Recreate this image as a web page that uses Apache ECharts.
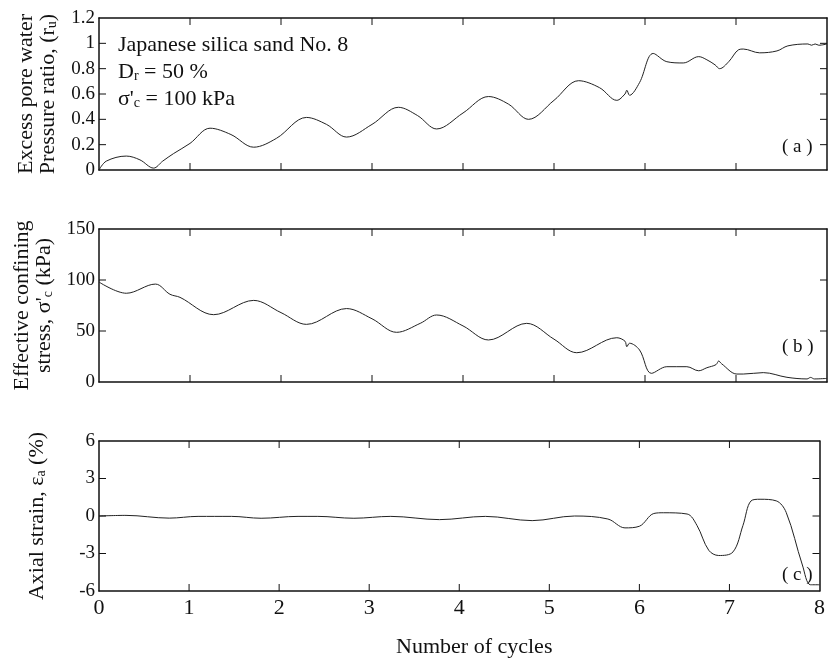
<!DOCTYPE html>
<html>
<head>
<meta charset="utf-8">
<script src="https://cdn.jsdelivr.net/npm/echarts@6/dist/echarts.min.js"></script>
<style>
  html, body { margin: 0; padding: 0; background: #fff; }
  #chart { width: 828px; height: 659px; }
</style>
</head>
<body>
<div id="chart"></div>
<script>
// (a) excess pore water pressure ratio
var cyclesA = [0, 0.08, 0.30, 0.45, 0.60, 0.70, 0.82, 1.0, 1.22, 1.45, 1.70, 1.95, 2.28, 2.50, 2.72, 3.0, 3.29, 3.50, 3.71, 4.0, 4.28, 4.50, 4.72, 5.0, 5.27, 5.50, 5.69, 5.78, 5.80, 5.83, 5.94, 6.09, 6.24, 6.42, 6.59, 6.68, 6.77, 6.82, 6.92, 7.03, 7.08, 7.26, 7.45, 7.57, 7.79, 7.83, 7.87, 7.91, 8.0];
var ruA = [0, 0.07, 0.11, 0.08, 0.015, 0.07, 0.13, 0.21, 0.33, 0.28, 0.18, 0.25, 0.415, 0.36, 0.26, 0.36, 0.495, 0.43, 0.324, 0.45, 0.58, 0.52, 0.40, 0.55, 0.705, 0.65, 0.55, 0.60, 0.63, 0.59, 0.69, 0.92, 0.855, 0.845, 0.895, 0.87, 0.83, 0.80, 0.855, 0.95, 0.955, 0.925, 0.94, 0.98, 0.995, 0.985, 0.995, 0.985, 0.995];

// (b) effective confining stress (kPa)
var cyclesB = [0, 0.30, 0.62, 0.78, 0.89, 1.26, 1.70, 2.0, 2.28, 2.72, 3.0, 3.27, 3.53, 3.71, 4.0, 4.28, 4.70, 5.0, 5.25, 5.69, 5.78, 5.80, 5.83, 5.94, 6.07, 6.24, 6.46, 6.59, 6.68, 6.78, 6.81, 6.84, 7.01, 7.08, 7.30, 7.56, 7.78, 7.82, 7.86, 8.0];
var stressB = [98, 87, 96, 86, 83, 66, 80, 68, 56.5, 72, 62, 48.7, 57.5, 65.7, 55, 41.2, 57.5, 42, 28.7, 43.4, 40, 34.6, 38, 31.4, 8.5, 15, 15, 11, 14, 17, 20.6, 18, 7.8, 7.8, 9.2, 4.6, 3, 4.5, 3, 3.5];

// (c) axial strain (%)
var cyclesC = [0, 0.3, 0.78, 1.1, 1.47, 1.80, 2.21, 2.43, 2.83, 3.24, 3.78, 4.29, 4.81, 5.28, 5.65, 5.84, 6.0, 6.16, 6.27, 6.53, 6.64, 6.77, 6.88, 7.04, 7.15, 7.24, 7.34, 7.52, 7.63, 7.81, 7.90, 8.0];
var strainC = [0, 0.05, -0.17, -0.03, -0.03, -0.18, -0.03, -0.03, -0.18, -0.03, -0.29, -0.03, -0.37, 0, -0.24, -0.95, -0.82, 0.2, 0.26, 0.16, -0.76, -2.74, -3.16, -2.87, -0.76, 1.21, 1.34, 1.21, 0.29, -3.92, -5.5, -5.5];

// tick values
var xTicks = ['0', '1', '2', '3', '4', '5', '6', '7', '8'];
var xTickVals = [1, 2, 3, 4, 5, 6, 7];
var yTickVals = [
    [0.2, 0.4, 0.6, 0.8, 1.0],
    [50, 100],
    [-3, 0, 3]
];

function pairs(xs, ys) {
    var out = [];
    for (var i = 0; i < xs.length; i++) out.push([xs[i], ys[i]]);
    return out;
}

var FONT = 'Liberation Serif';
var TICK = 7;
var txt = {fontFamily: FONT, fontSize: 19, color: '#111'};
function axLine() { return {show: true, onZero: false, lineStyle: {color: '#111', width: 1.5}}; }

var grids = [
    {left: 99, right: 1, top: 18, height: 152},
    {left: 99, right: 1, top: 229, height: 153},
    {left: 99, right: 1, top: 441, height: 152}
];

var yDefs = [
    {min: 0, max: 1.2, interval: 0.2, gap: 40,
     name: '{n|Excess pore water}\n{n|Pressure ratio, (r}{s|u}{n|)}'},
    {min: 0, max: 150, interval: 50, gap: 41,
     name: '{n|Effective confining}\n{n|stress, σ\'}{s|c}{n| (kPa)}'},
    {min: -6, max: 6, interval: 3, gap: 51,
     name: '{n|Axial strain, ε}{s|a}{n| (%)}'}
];
var rich = {
    n: {fontFamily: FONT, fontSize: 22, color: '#111', lineHeight: 22},
    s: {fontFamily: FONT, fontSize: 14, color: '#111', verticalAlign: 'bottom', lineHeight: 22, padding: [8, 0, 0, 0]}
};

var xAxes = [], yAxes = [];
for (var g = 0; g < 3; g++) {
    var xb = {gridIndex: g, type: 'value', min: 0, max: 8, interval: 1};
    xAxes.push(Object.assign({}, xb, {
        position: 'bottom',
        axisLine: axLine(), axisTick: {show: false}, splitLine: {show: false},
        axisLabel: {show: g === 2, fontFamily: FONT, fontSize: 22, color: '#111', margin: 6,
            formatter: function (v) { return xTicks[Math.round(v)]; }},
        name: g === 2 ? 'Number of cycles' : '', nameLocation: 'middle', nameGap: 45,
        nameTextStyle: {fontFamily: FONT, fontSize: 22, color: '#111', padding: [0, 0, 0, 30]}
    }));
    xAxes.push(Object.assign({}, xb, {
        position: 'top', axisLine: axLine(), axisTick: {show: false},
        splitLine: {show: false}, axisLabel: {show: false}
    }));

    var d = yDefs[g];
    var yb = {gridIndex: g, type: 'value', min: d.min, max: d.max, interval: d.interval};
    yAxes.push(Object.assign({}, yb, {
        position: 'left',
        axisLine: axLine(), axisTick: {show: false}, splitLine: {show: false},
        axisLabel: Object.assign({margin: 4}, txt),
        name: d.name, nameLocation: 'middle', nameGap: d.gap, nameRotate: 90,
        nameTextStyle: {rich: rich, align: 'center'}
    }));
    yAxes.push(Object.assign({}, yb, {
        position: 'right', axisLine: axLine(), axisTick: {show: false},
        splitLine: {show: false}, axisLabel: {show: false}
    }));
}

// inward tick marks on all four sides of a panel, placed through the axes' scales
function tickSeries(g) {
    var d = yDefs[g];
    var data = [];
    xTickVals.forEach(function (v) { data.push([v, d.min, 0]); });
    yTickVals[g].forEach(function (v) { data.push([0, v, 1]); });
    return {
        type: 'custom', xAxisIndex: g * 2, yAxisIndex: g * 2, silent: true, z: 5,
        data: data,
        renderItem: function (params, api) {
            var kind = api.value(2);
            var st = {stroke: '#111', lineWidth: 1};
            var a, b;
            if (kind === 0) {
                var v = api.value(0);
                a = api.coord([v, d.min]);
                b = api.coord([v, d.max]);
                return {type: 'group', children: [
                    {type: 'line', shape: {x1: a[0], y1: a[1], x2: a[0], y2: a[1] - TICK}, style: st},
                    {type: 'line', shape: {x1: b[0], y1: b[1], x2: b[0], y2: b[1] + TICK}, style: st}
                ]};
            }
            var w = api.value(1);
            a = api.coord([0, w]);
            b = api.coord([8, w]);
            return {type: 'group', children: [
                {type: 'line', shape: {x1: a[0], y1: a[1], x2: a[0] + TICK, y2: a[1]}, style: st},
                {type: 'line', shape: {x1: b[0], y1: b[1], x2: b[0] - TICK, y2: b[1]}, style: st}
            ]};
        }
    };
}

var series = [
    {type: 'line', xAxisIndex: 0, yAxisIndex: 0, data: pairs(cyclesA, ruA)},
    {type: 'line', xAxisIndex: 2, yAxisIndex: 2, data: pairs(cyclesB, stressB)},
    {type: 'line', xAxisIndex: 4, yAxisIndex: 4, data: pairs(cyclesC, strainC)}
].map(function (s) {
    s.smooth = 0.35;
    s.showSymbol = false;
    s.lineStyle = {color: '#222', width: 1};
    s.silent = true;
    return s;
});
series.push(tickSeries(0), tickSeries(1), tickSeries(2));

var annRich = {
    n: {fontFamily: FONT, fontSize: 22, fill: '#111', lineHeight: 27},
    s: {fontFamily: FONT, fontSize: 14, fill: '#111', lineHeight: 27, padding: [9, 0, 0, 0]}
};

var chart = echarts.init(document.getElementById('chart'), null, {renderer: 'canvas'});
chart.setOption({
    animation: false,
    backgroundColor: '#fff',
    grid: grids,
    xAxis: xAxes,
    yAxis: yAxes,
    series: series,
    graphic: [
        {type: 'text', left: 118, top: 34, style: {
            text: '{n|Japanese silica sand No. 8}\n{n|D}{s|r}{n| = 50 %}\n{n|σ\'}{s|c}{n| = 100 kPa}',
            rich: annRich}},
        {type: 'text', left: 782, top: 138, style: {text: '( a )', font: '19px "Liberation Serif"', fill: '#111'}},
        {type: 'text', left: 782, top: 338, style: {text: '( b )', font: '19px "Liberation Serif"', fill: '#111'}},
        {type: 'text', left: 782, top: 566, style: {text: '( c )', font: '19px "Liberation Serif"', fill: '#111'}}
    ]
});
</script>
</body>
</html>
